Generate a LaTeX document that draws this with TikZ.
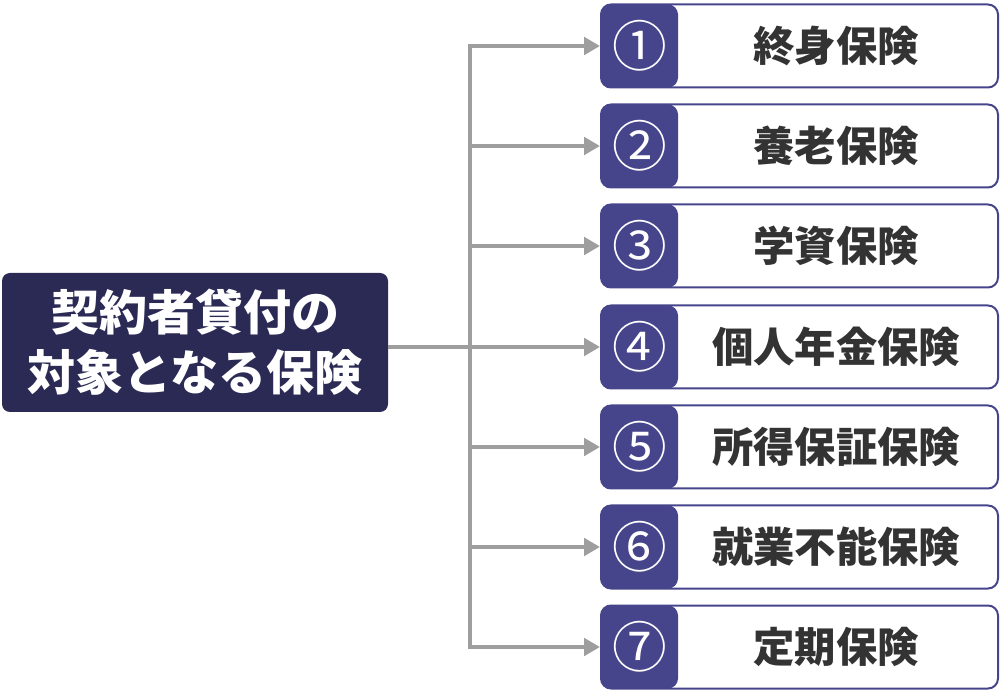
\documentclass[tikz,border=0pt]{standalone}
\usepackage{fontspec}
\setmainfont{Noto Sans CJK JP}
\usepackage{tikz}
\usetikzlibrary{arrows.meta}

\definecolor{navy}{HTML}{2B2A55}
\definecolor{numblue}{HTML}{46458C}
\definecolor{arcgray}{HTML}{9E9E9E}
\definecolor{textgray}{HTML}{333333}

\begin{document}
\begin{tikzpicture}[x=0.75pt,y=-0.75pt]
  \useasboundingbox (0,0) rectangle (1000,691);

  \node (main) at (195,342.5) [fill=navy, rounded corners=6pt, minimum width=289.5pt,
    minimum height=104.25pt, inner sep=0pt, text=white, align=center,
    font=\fontsize{36}{45}\selectfont\bfseries] {契約者貸付の\\対象となる保険};

  \begin{scope}[every node/.style={draw=numblue, line width=1.5pt, fill=white,
      rounded corners=7.5pt, minimum width=297.75pt, minimum height=62.25pt, inner sep=0pt,
      path picture={\fill[numblue] (path picture bounding box.south west)
        rectangle ([xshift=57.75pt]path picture bounding box.north west);}}]
      \node (item1) at (799.5,46) {};
      \node (item2) at (799.5,146) {};
      \node (item3) at (799.5,246) {};
      \node (item4) at (799.5,347) {};
      \node (item5) at (799.5,447) {};
      \node (item6) at (799.5,547) {};
      \node (item7) at (799.5,647) {};
  \end{scope}

  \begin{scope}[every node/.style={text=white, font=\fontsize{41}{41}\selectfont}]
      \node (num1) at (640,46) {①};
      \node (num2) at (640,146) {②};
      \node (num3) at (640,246) {③};
      \node (num4) at (640,347) {④};
      \node (num5) at (640,447) {⑤};
      \node (num6) at (640,547) {⑥};
      \node (num7) at (640,647) {⑦};
  \end{scope}

  \begin{scope}[every node/.style={text=textgray, font=\fontsize{31}{31}\selectfont\bfseries}]
      \node (name1) at (836,46) {終身保険};
      \node (name2) at (836,146) {養老保険};
      \node (name3) at (836,246) {学資保険};
      \node (name4) at (836,347) {個人年金保険};
      \node (name5) at (836,447) {所得保証保険};
      \node (name6) at (836,547) {就業不能保険};
      \node (name7) at (836,647) {定期保険};
  \end{scope}

  \tikzset{thick arc/.style={-{Triangle[length=12pt,width=13pt]}, arcgray, line width=3.5pt}}

  \coordinate (trunk) at (470,0);

  \draw[thick arc, {Triangle[length=12pt,width=13pt]}-{Triangle[length=12pt,width=13pt]}]
    (item7.west) -- (item7.west -| trunk) -- (item1.west -| trunk) -- (item1.west);

  \draw[thick arc] (item2.west -| trunk) -- (item2.west);
  \draw[thick arc] (item3.west -| trunk) -- (item3.west);
  \draw[thick arc] (main.east |- item4.west) -- (item4.west);
  \draw[thick arc] (item5.west -| trunk) -- (item5.west);
  \draw[thick arc] (item6.west -| trunk) -- (item6.west);

\end{tikzpicture}
\end{document}
